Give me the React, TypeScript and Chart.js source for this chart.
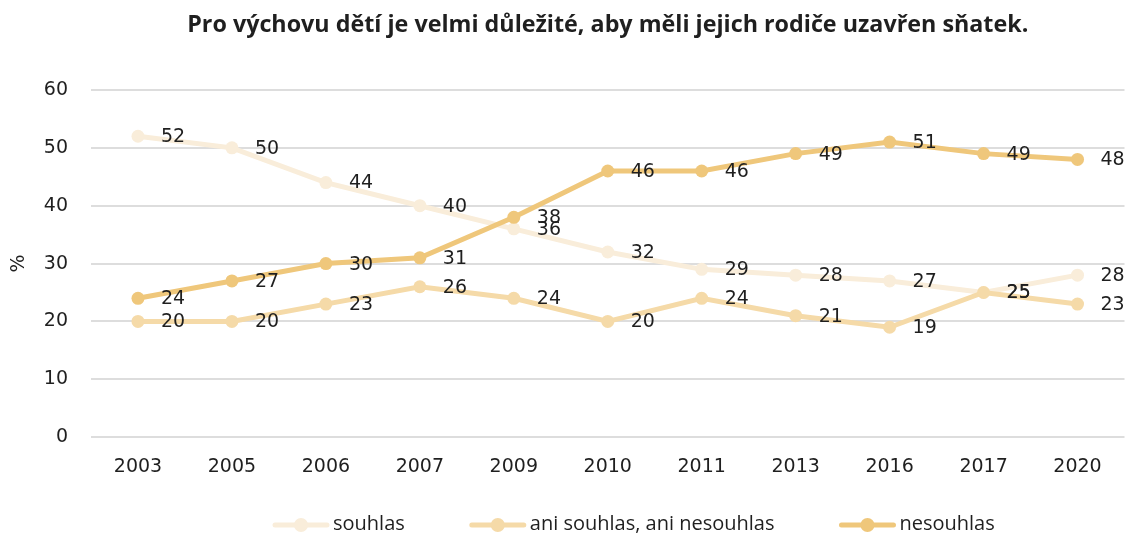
import React, { useEffect, useRef } from 'react';
import { Chart, registerables } from 'chart.js';

Chart.register(...registerables);

const years = ['2003', '2005', '2006', '2007', '2009', '2010', '2011', '2013', '2016', '2017', '2020'];
const souhlas = [52, 50, 44, 40, 36, 32, 29, 28, 27, 25, 28];
const aniSouhlasAniNesouhlas = [20, 20, 23, 26, 24, 20, 24, 21, 19, 25, 23];
const nesouhlas = [24, 27, 30, 31, 38, 46, 46, 49, 51, 49, 48];
const seriesNames = ['souhlas', 'ani souhlas, ani nesouhlas', 'nesouhlas'];
const seriesColors = ['#F9EDDA', '#F5DAA8', '#EFC77B'];
const titleText = 'Pro výchovu dětí je velmi důležité, aby měli jejich rodiče uzavřen sňatek.';

const TEXT_COLOR = '#1f1f1f';
const LABEL_FONT = '19px "DejaVu Sans"';

const dataLabelPlugin = {
  id: 'dataLabels',
  afterDatasetsDraw(chart: any) {
    const ctx = chart.ctx;
    ctx.save();
    ctx.font = LABEL_FONT;
    ctx.fillStyle = TEXT_COLOR;
    ctx.textAlign = 'left';
    ctx.textBaseline = 'middle';
    chart.data.datasets.forEach((ds: any, i: number) => {
      const meta = chart.getDatasetMeta(i);
      meta.data.forEach((pt: any, j: number) => {
        ctx.fillText(String(ds.data[j]), pt.x + 23, pt.y + 1);
      });
    });
    ctx.restore();
  },
};

const legendPlugin = {
  id: 'lineLegend',
  afterDraw(chart: any) {
    const ctx = chart.ctx;
    ctx.save();
    ctx.font = '20px "Open Sans"';
    ctx.textBaseline = 'middle';
    ctx.textAlign = 'left';
    let x = 273;
    const y = 525;
    chart.data.datasets.forEach((ds: any) => {
      ctx.strokeStyle = ds.borderColor;
      ctx.lineWidth = 5;
      ctx.lineCap = 'round';
      ctx.beginPath();
      ctx.moveTo(x + 2, y);
      ctx.lineTo(x + 54, y);
      ctx.stroke();
      ctx.fillStyle = ds.borderColor;
      ctx.beginPath();
      ctx.arc(x + 28, y, 7, 0, Math.PI * 2);
      ctx.fill();
      ctx.fillStyle = TEXT_COLOR;
      ctx.fillText(ds.label, x + 60, y - 1);
      x += 60 + ctx.measureText(ds.label).width + 65;
    });
    ctx.restore();
  },
};

export default function App() {
  const canvasRef = useRef<HTMLCanvasElement | null>(null);

  useEffect(() => {
    if (!canvasRef.current) return;
    const series = [souhlas, aniSouhlasAniNesouhlas, nesouhlas];
    const chart = new Chart(canvasRef.current, {
      type: 'line',
      data: {
        labels: years,
        datasets: series.map((d, i) => ({
          label: seriesNames[i],
          data: d,
          borderColor: seriesColors[i],
          backgroundColor: seriesColors[i],
          pointBackgroundColor: seriesColors[i],
          pointBorderWidth: 0,
          pointRadius: 6.5,
          borderWidth: 5,
          tension: 0,
          order: 3 - i,
        })),
      },
      options: {
        responsive: false,
        animation: false,
        layout: { padding: { left: 0, right: 4, top: 0, bottom: 37 } },
        plugins: {
          legend: { display: false },
          tooltip: { enabled: false },
          title: {
            display: true,
            text: titleText,
            fullSize: false,
            color: TEXT_COLOR,
            font: { family: '"Open Sans"', size: 23.3, weight: 'bold' },
            padding: { top: 11, bottom: 51 },
          },
        },
        scales: {
          x: {
            offset: true,
            grid: { display: false, drawTicks: false },
            border: { display: false },
            ticks: { color: TEXT_COLOR, font: { family: 'DejaVu Sans', size: 19 }, padding: 18, maxRotation: 0 },
          },
          y: {
            min: 0,
            max: 60,
            afterFit(scale: any) {
              scale.width = 91;
            },
            grid: { color: '#DDDDDD', lineWidth: 2, drawTicks: false },
            border: { display: false },
            ticks: { stepSize: 10, color: TEXT_COLOR, font: { family: 'DejaVu Sans', size: 19 }, padding: 23 },
            title: {
              display: true,
              text: '%',
              color: TEXT_COLOR,
              font: { family: 'DejaVu Sans', size: 19 },
              padding: { top: 8, bottom: 0 },
            },
          },
        },
      },
      plugins: [dataLabelPlugin, legendPlugin],
    });
    return () => chart.destroy();
  }, []);

  return (
    <div style={{ position: 'fixed', left: 0, top: 0, width: 1131, height: 533, background: '#ffffff' }}>
      <canvas ref={canvasRef} width={1131} height={533} style={{ display: 'block' }} />
    </div>
  );
}
